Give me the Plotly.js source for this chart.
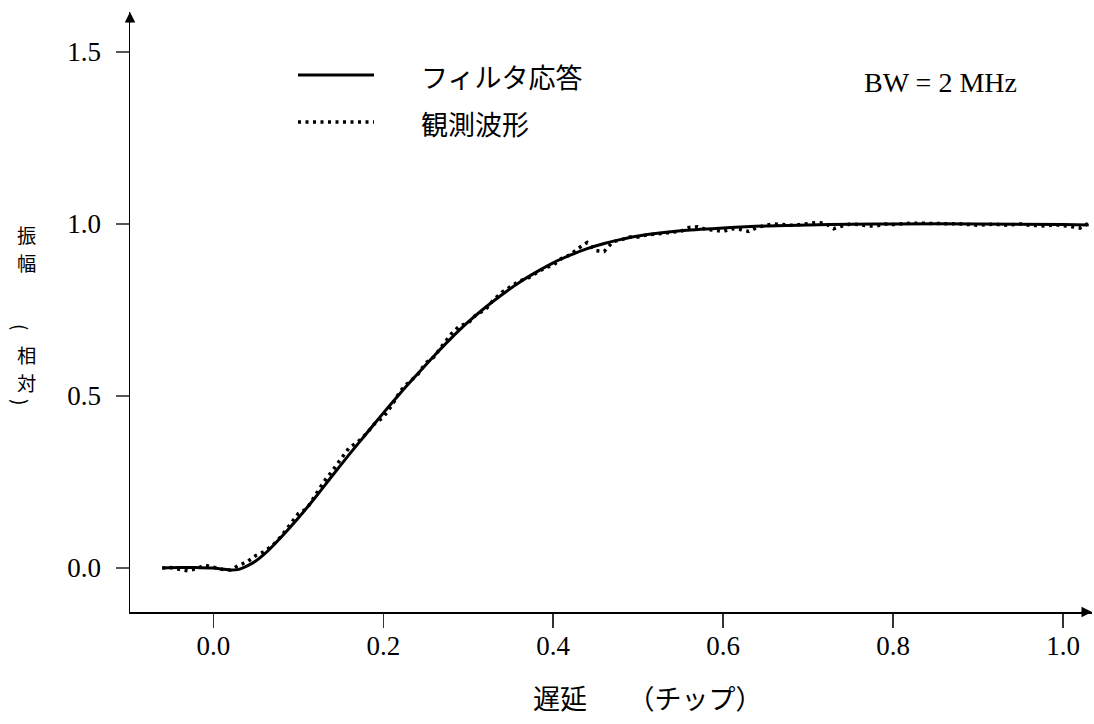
<!DOCTYPE html>
<html>
<head>
<meta charset="utf-8">
<script src="https://cdn.plot.ly/plotly-3.0.1.min.js"></script>
<style>
  html, body { margin: 0; padding: 0; background: #ffffff; }
  #chart { width: 1094px; height: 724px; }
</style>
</head>
<body>
<div id="chart"></div>
<script>
// Filter step response (smooth curve), delay in chips vs. relative amplitude
const filterDelay = [-0.06, -0.04, -0.02, 0.00, 0.01, 0.02, 0.03, 0.04, 0.05, 0.06, 0.07, 0.08, 0.09,
  0.10, 0.12, 0.14, 0.16, 0.18, 0.20, 0.22, 0.24, 0.26, 0.28, 0.30, 0.32, 0.34, 0.36, 0.38,
  0.40, 0.42, 0.44, 0.46, 0.48, 0.50, 0.55, 0.60, 0.65, 0.70, 0.75, 0.80, 0.90, 1.00, 1.03];
const filterAmp = [0.000, 0.001, 0.001, 0.000, -0.003, -0.006, -0.004, 0.006, 0.020, 0.040, 0.064, 0.090, 0.117,
  0.145, 0.205, 0.268, 0.330, 0.390, 0.450, 0.508, 0.563, 0.617, 0.668, 0.715, 0.757, 0.795, 0.830, 0.860,
  0.887, 0.909, 0.928, 0.943, 0.955, 0.965, 0.980, 0.988, 0.994, 0.997, 0.999, 1.000, 1.000, 0.998, 0.997];

// Observed waveform samples, every 0.01 chip from -0.06 to 1.03
const obsDelay = [-0.06, -0.05, -0.04, -0.03, -0.02, -0.01, 0.00, 0.01, 0.02, 0.03, 0.04, 0.05, 0.06, 0.07, 0.08, 0.09,
  0.10, 0.11, 0.12, 0.13, 0.14, 0.15, 0.16, 0.17, 0.18, 0.19, 0.20, 0.21, 0.22, 0.23, 0.24, 0.25, 0.26, 0.27, 0.28, 0.29,
  0.30, 0.31, 0.32, 0.33, 0.34, 0.35, 0.36, 0.37, 0.38, 0.39, 0.40, 0.41, 0.42, 0.43, 0.44, 0.45, 0.46, 0.47, 0.48, 0.49,
  0.50, 0.51, 0.52, 0.53, 0.54, 0.55, 0.56, 0.57, 0.58, 0.59, 0.60, 0.61, 0.62, 0.63, 0.64, 0.65, 0.66, 0.67, 0.68, 0.69,
  0.70, 0.71, 0.72, 0.73, 0.74, 0.75, 0.76, 0.77, 0.78, 0.79, 0.80, 0.81, 0.82, 0.83, 0.84, 0.85, 0.86, 0.87, 0.88, 0.89,
  0.90, 0.91, 0.92, 0.93, 0.94, 0.95, 0.96, 0.97, 0.98, 0.99, 1.00, 1.01, 1.02, 1.03];
const obsAmp = [0.000, 0.001, -0.004, -0.008, -0.002, 0.008, 0.002, -0.004, -0.006, 0.008, 0.018, 0.036, 0.048, 0.066, 0.092, 0.126,
  0.158, 0.172, 0.212, 0.250, 0.282, 0.318, 0.350, 0.366, 0.390, 0.420, 0.438, 0.472, 0.514, 0.540, 0.560, 0.596, 0.614, 0.648, 0.680, 0.704,
  0.712, 0.738, 0.750, 0.780, 0.802, 0.818, 0.834, 0.842, 0.856, 0.872, 0.880, 0.900, 0.910, 0.930, 0.946, 0.922, 0.920, 0.948, 0.954, 0.962,
  0.962, 0.968, 0.970, 0.974, 0.976, 0.978, 0.990, 0.992, 0.984, 0.982, 0.978, 0.986, 0.984, 0.978, 0.990, 0.996, 1.000, 0.998, 0.996, 0.998,
  1.002, 1.004, 1.002, 0.986, 0.994, 1.000, 0.998, 0.994, 0.994, 1.000, 0.998, 1.001, 1.002, 1.002, 1.002, 1.002, 1.002, 1.002, 1.000, 0.998,
  0.996, 0.998, 1.000, 0.996, 0.998, 1.000, 0.996, 0.994, 0.994, 0.998, 0.996, 0.992, 0.988, 1.002];

const xTicks = [0.0, 0.2, 0.4, 0.6, 0.8, 1.0];
const xTickText = ['0.0', '0.2', '0.4', '0.6', '0.8', '1.0'];
const yTicks = [0.0, 0.5, 1.0, 1.5];
const yTickText = ['0.0', '0.5', '1.0', '1.5'];

const seriesNames = ['フィルタ応答', '観測波形'];
const noteText = 'BW = 2 MHz';
const xTitle = '遅延　　（チップ）';
// vertical y-axis title "振幅（相対）": one glyph per row, brackets turned sideways
const yTitleGlyphs = ['振', '幅', '(', '相', '対', ')'];
const yTitleRowY = [235, 263, 327, 355, 383, 402];

// Plot-area geometry in pixels
const W = 1094, H = 724;
const M = { l: 130, r: 2, t: 12, b: 112 };
const pw = W - M.l - M.r, ph = H - M.t - M.b;
const px = v => (v - M.l) / pw;          // pixel x -> paper x
const py = v => (H - M.b - v) / ph;      // pixel y -> paper y

const serif = 'Liberation Serif, Times New Roman, serif';
const cjk = 'Noto Sans CJK JP, Noto Sans, sans-serif';
const DOT = '3px,4.5px';

const traces = [
  {
    x: filterDelay, y: filterAmp, type: 'scatter', mode: 'lines',
    name: seriesNames[0], showlegend: false,
    line: { color: '#000000', width: 3, shape: 'spline', smoothing: 0.8 }
  },
  {
    x: obsDelay, y: obsAmp, type: 'scatter', mode: 'lines',
    name: seriesNames[1], showlegend: false,
    line: { color: '#000000', width: 3.5, dash: DOT }
  }
];

const annotations = [
  // axis arrow heads
  { xref: 'paper', yref: 'paper', x: 1, y: 0, ax: -12, ay: 0, axref: 'pixel', ayref: 'pixel',
    text: '', showarrow: true, arrowhead: 2, arrowsize: 1.4, arrowwidth: 1.5, arrowcolor: '#000', standoff: 0 },
  { xref: 'paper', yref: 'paper', x: 0, y: 1, ax: 0, ay: 12, axref: 'pixel', ayref: 'pixel',
    text: '', showarrow: true, arrowhead: 2, arrowsize: 1.4, arrowwidth: 1.5, arrowcolor: '#000', standoff: 0 },
  // legend labels
  { xref: 'paper', yref: 'paper', x: px(419), y: py(77), xanchor: 'left', yanchor: 'middle',
    text: seriesNames[0], showarrow: false, font: { family: cjk, size: 27, color: '#000' } },
  { xref: 'paper', yref: 'paper', x: px(419), y: py(123), xanchor: 'left', yanchor: 'middle',
    text: seriesNames[1], showarrow: false, font: { family: cjk, size: 27, color: '#000' } },
  // bandwidth note
  { xref: 'paper', yref: 'paper', x: px(940), y: py(83), xanchor: 'center', yanchor: 'middle',
    text: noteText, showarrow: false, font: { family: serif, size: 28, color: '#000' } },
  // x-axis title
  { xref: 'paper', yref: 'paper', x: px(648), y: py(697), xanchor: 'center', yanchor: 'middle',
    text: xTitle, showarrow: false, font: { family: cjk, size: 27, color: '#000' } }
];
yTitleGlyphs.forEach((g, i) => {
  const bracket = (g === '(' || g === ')');
  annotations.push({
    xref: 'paper', yref: 'paper', x: px(bracket ? 22 : 26), y: py(yTitleRowY[i]),
    xanchor: 'center', yanchor: 'middle', text: g, showarrow: false,
    textangle: bracket ? 90 : 0,
    font: { family: cjk, size: bracket ? 19 : 19.3, color: '#000' }
  });
});

// legend line samples
const shapes = [
  { type: 'line', xref: 'paper', yref: 'paper', x0: px(298), x1: px(374), y0: py(75), y1: py(75),
    line: { color: '#000', width: 3 } },
  { type: 'line', xref: 'paper', yref: 'paper', x0: px(298), x1: px(374), y0: py(122), y1: py(122),
    line: { color: '#000', width: 3.5, dash: DOT } }
];

const layout = {
  width: W, height: H,
  margin: M,
  paper_bgcolor: '#ffffff', plot_bgcolor: '#ffffff',
  showlegend: false,
  xaxis: {
    range: [-0.098, 1.034],
    tickvals: xTicks, ticktext: xTickText,
    ticks: 'outside', ticklen: 14, tickwidth: 1.5, tickcolor: '#333',
    showline: true, linecolor: '#000', linewidth: 1.5,
    showgrid: false, zeroline: false,
    ticklabelstandoff: -5,
    tickfont: { family: serif, size: 27, color: '#000' }
  },
  yaxis: {
    range: [-0.128, 1.616],
    tickvals: yTicks, ticktext: yTickText,
    ticks: 'outside', ticklen: 13, tickwidth: 1.5, tickcolor: '#555',
    showline: true, linecolor: '#000', linewidth: 1.5,
    showgrid: false, zeroline: false,
    ticklabelstandoff: 9,
    tickfont: { family: serif, size: 27, color: '#000' }
  },
  annotations: annotations,
  shapes: shapes
};

Plotly.newPlot('chart', traces, layout, { staticPlot: true, displayModeBar: false });
</script>
</body>
</html>
